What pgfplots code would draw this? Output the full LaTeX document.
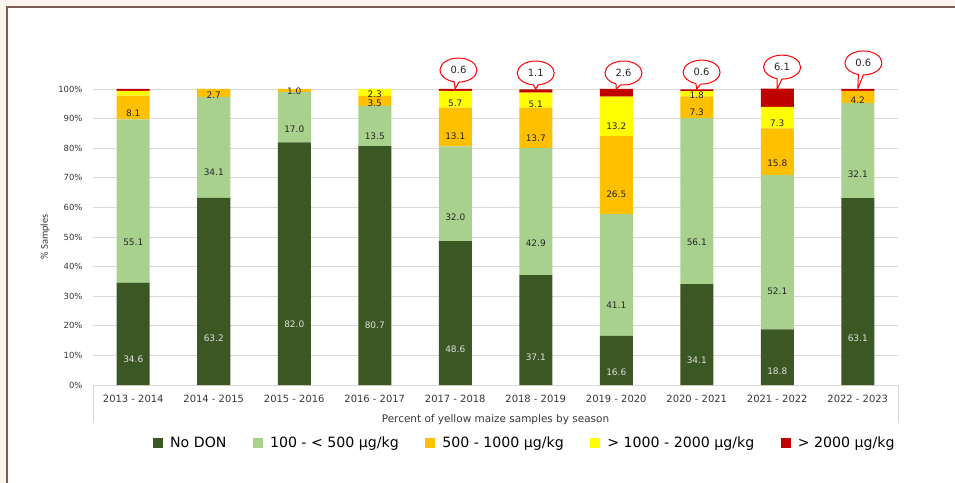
\documentclass[border=0pt]{standalone}
\usepackage{fontspec}
\setmainfont{DejaVu Sans}
\newfontfamily\carlito{Carlito}
\usepackage{pgfplots}
\pgfplotsset{compat=1.18}
\usepackage{pgfplotstable}
\usetikzlibrary{shapes.callouts}

\definecolor{dongreen}{RGB}{59,87,35}
\definecolor{lightgreen}{RGB}{169,209,142}
\definecolor{donorange}{RGB}{255,192,0}
\definecolor{donyellow}{RGB}{255,255,0}
\definecolor{donred}{RGB}{192,0,0}
\definecolor{framebrown}{RGB}{125,95,85}
\definecolor{bgbeige}{RGB}{252,246,238}
\definecolor{gridgrey}{RGB}{217,217,217}
\definecolor{labgrey}{RGB}{56,56,56}

% season index, shares (%), and the label printed in each segment
\pgfplotstableread{
x nodon low mid high top lnodon llow lmid lhigh
0 34.6 55.1 8.1  1.6  0.6 34.6 55.1 8.1  {}
1 63.2 34.1 2.7  0    0   63.2 34.1 2.7  {}
2 82.0 17.0 1.0  0    0   82.0 17.0 1.0  {}
3 80.7 13.5 3.5  2.3  0   80.7 13.5 3.5  2.3
4 48.6 32.0 13.1 5.7  0.6 48.6 32.0 13.1 5.7
5 37.1 42.9 13.7 5.1  1.1 37.1 42.9 13.7 5.1
6 16.6 41.1 26.5 13.2 2.6 16.6 41.1 26.5 13.2
7 34.1 56.1 7.3  1.8  0.6 34.1 56.1 7.3  1.8
8 18.8 52.1 15.8 7.3  6.1 18.8 52.1 15.8 7.3
9 63.1 32.1 4.2  0    0.6 63.1 32.1 4.2  {}
}\dondata

\begin{document}
\begin{tikzpicture}
\path[use as bounding box] (-93bp,-98bp) rectangle (862bp,385bp);
\fill[bgbeige] (-93bp,-98bp) rectangle (862bp,385bp);
\fill[white] (-86bp,-98bp) rectangle (862bp,378bp);
\draw[framebrown, line width=2bp] (-86bp,-98bp) -- (-86bp,378bp) -- (862bp,378bp);

\begin{axis}[
    at={(0,0)}, anchor=south west,
    scale only axis, width=805bp, height=296bp,
    ybar stacked, bar width=33bp,
    xmin=-0.5, xmax=9.5, ymin=0, ymax=100,
    clip=false,
    xtick={0,...,9},
    xticklabels={2013 - 2014, 2014 - 2015, 2015 - 2016, 2016 - 2017, 2017 - 2018,
                 2018 - 2019, 2019 - 2020, 2020 - 2021, 2021 - 2022, 2022 - 2023},
    ytick={0,10,...,100},
    yticklabels={0\%,10\%,20\%,30\%,40\%,50\%,60\%,70\%,80\%,90\%,100\%},
    major tick length=0pt,
    axis x line*=bottom, axis y line*=left,
    x axis line style={gridgrey, line width=0.8bp, -},
    y axis line style={draw=none},
    ymajorgrids, grid style={gridgrey, line width=0.8bp},
    xticklabel style={font=\fontsize{10}{12}\selectfont, text=labgrey, yshift=-7bp},
    yticklabel style={font=\fontsize{8.5}{10}\selectfont, text=labgrey, xshift=-7bp},
    xlabel={Percent of yellow maize samples by season},
    ylabel={\carlito \% Samples},
    every axis x label/.style={at={(axis description cs:0.5,-0.117)}, anchor=center,
        font=\fontsize{10.5}{12}\selectfont, text=labgrey},
    every axis y label/.style={at={(axis description cs:-0.0596,0.5)}, anchor=center,
        rotate=90, font=\fontsize{10.5}{12}\selectfont, text=labgrey},
    legend columns=5,
    legend style={at={(axis description cs:0.0745,-0.196)}, anchor=west,
        draw=none, fill=none, inner sep=0pt,
        font=\fontsize{14.2}{16}\selectfont,
        nodes={inner sep=0pt},
        /tikz/every odd column/.append style={column sep=7bp},
        /tikz/every even column/.append style={column sep=26.5bp}},
    legend image code/.code={\fill[#1] (0bp,-5bp) rectangle (10bp,5bp);},
    point meta=explicit symbolic,
    visualization depends on={rawy \as \rawy},
    nodes near coords,
    every node near coord/.append style={anchor=center,
        shift={(axis direction cs:0,-\rawy/4)},
        font=\fontsize{9}{10}\selectfont, text=black!85},
]
\addplot[fill=dongreen, draw=none,
    every node near coord/.append style={text=white!88!black}]
    table[x=x, y=nodon, meta=lnodon] {\dondata};
\addlegendentry{No DON}
\addplot[fill=lightgreen, draw=none] table[x=x, y=low, meta=llow] {\dondata};
\addlegendentry{100 - < 500 µg/kg}
\addplot[fill=donorange, draw=none] table[x=x, y=mid, meta=lmid] {\dondata};
\addlegendentry{500 - 1000 µg/kg}
\addplot[fill=donyellow, draw=none] table[x=x, y=high, meta=lhigh] {\dondata};
\addlegendentry{> 1000 - 2000 µg/kg}
\addplot[fill=donred, draw=none, nodes near coords=] table[x=x, y=top] {\dondata};
\addlegendentry{> 2000 µg/kg}

\tikzset{dcall/.style={ellipse callout, draw=red, fill=white, line width=1bp,
    minimum width=37bp, minimum height=24bp, inner sep=0pt,
    font=\fontsize{10}{12}\selectfont, text=black!85}}
\node[dcall, callout absolute pointer={(axis cs:4,100)}] at (axis cs:4.04,106.4) {0.6};
\node[dcall, callout absolute pointer={(axis cs:5,100)}] at (axis cs:5.0,105.4) {1.1};
\node[dcall, callout absolute pointer={(axis cs:6,100)}] at (axis cs:6.09,105.4) {2.6};
\node[dcall, callout absolute pointer={(axis cs:7,100)}] at (axis cs:7.06,105.7) {0.6};
\node[dcall, callout absolute pointer={(axis cs:8,100)}] at (axis cs:8.06,107.4) {6.1};
\node[dcall, callout absolute pointer={(axis cs:9,100)}] at (axis cs:9.07,108.8) {0.6};
\end{axis}

\draw[gridgrey, line width=0.8bp] (0,0) -- (0,-38bp);
\draw[gridgrey, line width=0.8bp] (805bp,0) -- (805bp,-38bp);
\end{tikzpicture}
\end{document}
